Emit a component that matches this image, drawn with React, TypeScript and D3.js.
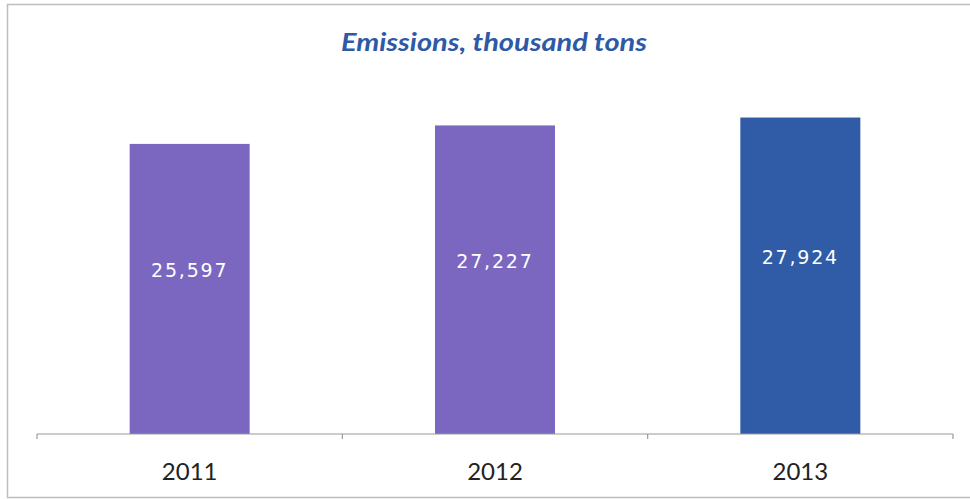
import React from "react";
import * as d3 from "d3";

const years = ["2011", "2012", "2013"];
const emissions = [25597, 27227, 27924];
const barColors = ["#7b67c0", "#7b67c0", "#2f5ba7"];
const title = "Emissions, thousand tons";

const W = 970;
const H = 499;
const axisY = 434;

export default function App() {
  const x = d3
    .scaleBand<string>()
    .domain(years)
    .range([37, 953])
    .paddingInner(0.607)
    .paddingOuter(0.3035);

  const y = d3.scaleLinear().domain([0, 30000]).range([axisY, 94]);
  const fmt = d3.format(",");

  const step = x.step();
  const tickXs = years.map((yr) => (x(yr) as number) - step * x.paddingInner() / 2);
  tickXs.push(953);

  return (
    <svg
      width={W}
      height={H}
      style={{ position: "fixed", left: 0, top: 0, background: "#fff" }}
    >
      {/* frame */}
      <path
        d={`M${W} 4.5 H7.5 V497.5 H${W}`}
        fill="none"
        stroke="#bdbdbd"
        strokeWidth={1.5}
      />

      <text
        x={494}
        y={51}
        textAnchor="middle"
        fontFamily="Lato, 'Open Sans', sans-serif"
        fontWeight="bold"
        fontStyle="italic"
        fontSize={24}
        textLength={306}
        lengthAdjust="spacingAndGlyphs"
        fill="#2d59a6"
      >
        {title}
      </text>

      {years.map((yr, i) => (
        <rect
          key={yr}
          x={x(yr)}
          y={y(emissions[i])}
          width={x.bandwidth()}
          height={axisY - y(emissions[i])}
          fill={barColors[i]}
        />
      ))}

      {/* category axis */}
      <line x1={37} x2={953} y1={axisY} y2={axisY} stroke="#9a9a9a" strokeWidth={1.2} />
      {tickXs.map((tx, i) => (
        <line key={i} x1={tx} x2={tx} y1={axisY} y2={axisY + 5} stroke="#9a9a9a" strokeWidth={1.2} />
      ))}

      {years.map((yr, i) => (
        <text
          key={yr}
          x={(x(yr) as number) + x.bandwidth() / 2}
          y={y(emissions[i] / 2) - 17}
          textAnchor="middle"
          dominantBaseline="middle"
          fontFamily="'DejaVu Sans', sans-serif"
          fontSize={19}
          letterSpacing={1.8}
          fill="#ffffff"
        >
          {fmt(emissions[i])}
        </text>
      ))}

      {years.map((yr) => (
        <text
          key={yr}
          x={(x(yr) as number) + x.bandwidth() / 2}
          y={480}
          textAnchor="middle"
          fontFamily="Lato, sans-serif"
          fontSize={24}
          fill="#222"
        >
          {yr}
        </text>
      ))}
    </svg>
  );
}
